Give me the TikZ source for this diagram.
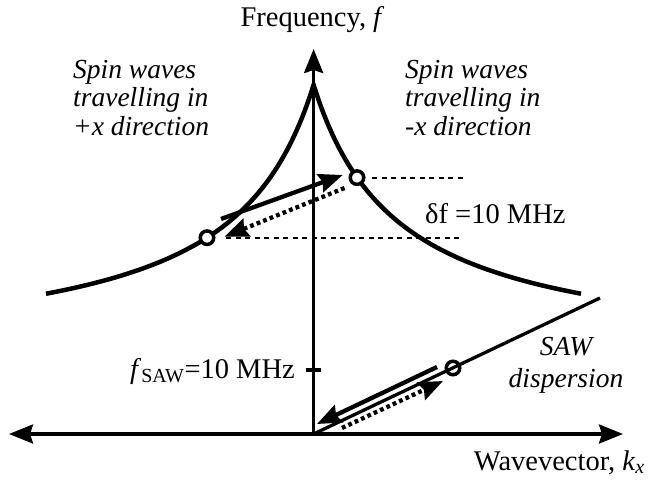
\documentclass[tikz,border=0pt]{standalone}
\usepackage{fontspec}
\setmainfont{Liberation Serif}
\usetikzlibrary{arrows.meta}
\begin{document}
\begin{tikzpicture}[x=1pt,y=-1pt,
  axisline/.style={line width=3.3pt},
  curve/.style={line width=4.5pt, line join=miter},
  ring/.style={circle, draw, line width=3.5pt, minimum size=13.5pt, inner sep=0pt},
  solidarrow/.style={line width=4.3pt, -{Stealth[length=24pt,width=19pt,inset=3pt]}},
  dotarrow/.style={line width=4.3pt, dash pattern=on 3.8pt off 3.2pt, -{Stealth[length=24pt,width=19pt,inset=3pt]}},
  guide/.style={line width=2pt, dash pattern=on 5pt off 4.5pt},
  lab/.style={font=\fontsize{28.5pt}{30pt}\selectfont, inner sep=0pt},
  itlab/.style={font=\fontsize{27.5pt}{28.5pt}\selectfont\itshape, inner sep=0pt, align=left}
]
\useasboundingbox (0,0) rectangle (655,481);

% axes
\coordinate (O) at (313.6,434);
\coordinate (L) at (9,434);
\coordinate (R) at (623,434);
\coordinate (T) at (313.6,49);
\draw[axisline, {Stealth[length=24pt,width=19pt,inset=3pt]}-{Stealth[length=24pt,width=19pt,inset=3pt]}] (L) -- (R);
\draw[axisline, -{Stealth[length=24pt,width=19pt,inset=3pt]}] (O) -- (T);

% tick
\coordinate (tk1) at (306,370);
\coordinate (tk2) at (321,370);
\draw[axisline] (tk1) -- (tk2);

% spin wave dispersion
\draw[curve] plot[domain=46:313.6, samples=150] (\x, {434 - 73.2 - 236.9/((313.6-\x+85.9)*0.01)})
  -- plot[domain=313.6:581, samples=150] (\x, {434 - 73.2 - 236.9/((\x-313.6+85.9)*0.01)});

% SAW dispersion
\coordinate (S) at (600,298);
\draw[line width=3.3pt] (O) -- (S);

% guides
\coordinate (g1a) at (372,177.6);
\coordinate (g1b) at (463,177.6);
\coordinate (g2a) at (226,237.7);
\coordinate (g2b) at (463,237.7);
\draw[guide] (g1a) -- (g1b);
\draw[guide] (g2a) -- (g2b);

% spin wave arrows
\coordinate (a1s) at (221,219);
\coordinate (a1e) at (342.7,175);
\coordinate (a2s) at (344.5,188);
\coordinate (a2e) at (224.5,236.7);
\draw[solidarrow] (a1s) -- (a1e);
\draw[dotarrow] (a2s) -- (a2e);

% SAW arrows
\coordinate (b1s) at (437,367);
\coordinate (b1e) at (317,424);
\coordinate (b2s) at (342,428);
\coordinate (b2e) at (443,381);
\draw[solidarrow] (b1s) -- (b1e);
\draw[dotarrow] (b2s) -- (b2e);

% circles
\node[ring, fill=white] (cl) at (207,237.7) {};
\node[ring, fill=white] (cr) at (357,177.6) {};
\node[ring] (cs) at (453,368) {};

% labels
\node[lab, anchor=base] (flab) at (312.5,27) {Frequency, \textit{f}};
\node[lab, anchor=base east] (klab) at (645,470) {Wavevector, \textit{k}\textsubscript{\textit{x}}};
\node[itlab, anchor=north west] (left) at (73,60) {Spin waves\\travelling in\\+x direction};
\node[itlab, anchor=north west] (right) at (405,60) {Spin waves\\travelling in\\-x direction};
\node[lab, anchor=base west] (df) at (425,223) {δf =10 MHz};
\node[itlab, anchor=north, align=center] (saw) at (566,337) {SAW\\[3.5pt]dispersion};
\node[lab, anchor=base east] (fs) at (295,378) {\textit{f}\textsubscript{SAW}=10 MHz};
\end{tikzpicture}
\end{document}
